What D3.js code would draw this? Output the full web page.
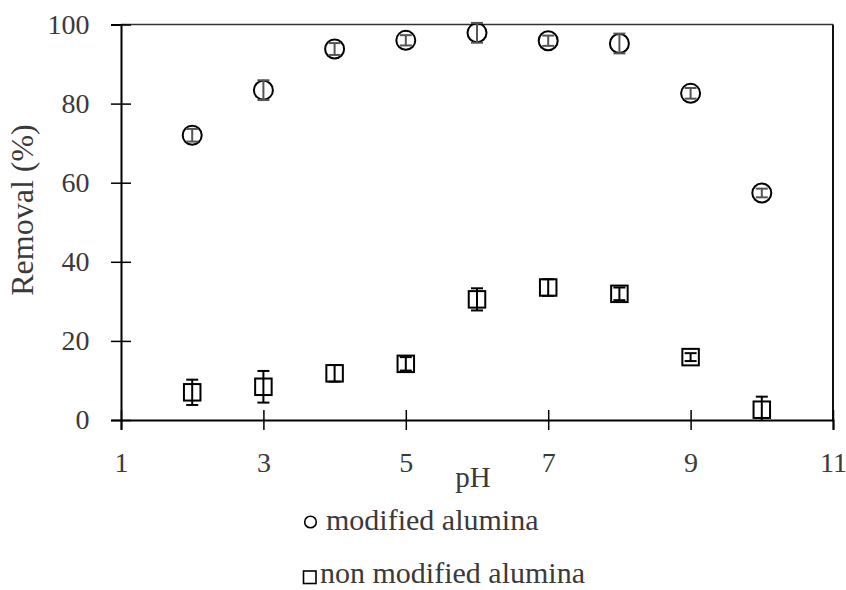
<!DOCTYPE html>
<html>
<head>
<meta charset="utf-8">
<script src="https://cdn.jsdelivr.net/npm/d3@7"></script>
<style>
  body { margin: 0; background: #fff; }
  svg text { font-family: "Liberation Serif", "Times New Roman", serif; fill: #3a3a3a; }
</style>
</head>
<body>
<svg id="chart"></svg>
<script>
// data
const phValues = [2, 3, 4, 5, 6, 7, 8, 9, 10];
const modifiedRemoval = [72.0, 83.4, 93.8, 96.0, 97.9, 95.9, 95.2, 82.6, 57.4];
const modifiedError = [1.6, 2.5, 1.5, 1.3, 2.5, 1.3, 2.5, 1.35, 1.1];
const nonModifiedRemoval = [7.0, 8.4, 11.8, 14.2, 30.5, 33.5, 31.9, 15.9, 2.6];
const nonModifiedError = [3.2, 4.0, 2.1, 1.7, 2.8, 2.1, 1.6, 1.0, 3.3];
const xTicks = [1, 3, 5, 7, 9, 11];
const yTicks = [0, 20, 40, 60, 80, 100];
const legendLabels = ["modified alumina", "non modified alumina"];

// layout
const width = 846;
const height = 590;
const margin = {top: 24.5, right: 13, bottom: 170, left: 121};
const plotW = width - margin.left - margin.right;
const plotH = height - margin.top - margin.bottom;

const svg = d3.select('#chart')
    .attr('width', width)
    .attr('height', height);

const g = svg.append('g')
    .attr('transform', 'translate(' + margin.left + ',' + margin.top + ')');

const x = d3.scaleLinear().domain([1, 11]).range([0, plotW]);
const y = d3.scaleLinear().domain([0, 100]).range([plotH, 0]);

// frame: top and right
g.append('line')
    .attr('x1', 0).attr('x2', plotW).attr('y1', 0).attr('y2', 0)
    .attr('stroke', '#333').attr('stroke-width', 1.5);
g.append('line')
    .attr('x1', plotW).attr('x2', plotW).attr('y1', 0).attr('y2', plotH)
    .attr('stroke', '#111').attr('stroke-width', 2);

// Y axis
const yAxis = g.append('g')
    .call(d3.axisLeft(y).tickValues(yTicks).tickSize(10).tickPadding(21.5));
yAxis.select('.domain').attr('stroke', '#000').attr('stroke-width', 2);
yAxis.selectAll('.tick line').attr('stroke', '#000').attr('stroke-width', 1.5);
yAxis.selectAll('.tick').append('line')
    .attr('x2', 10).attr('stroke', '#000').attr('stroke-width', 1.5);
yAxis.selectAll('.tick text')
    .style('font-size', '28px')
    .attr('fill', '#3a3a3a');

// X axis
const xAxis = g.append('g')
    .attr('transform', 'translate(0,' + plotH + ')')
    .call(d3.axisBottom(x).tickValues(xTicks).tickSize(10).tickPadding(11));
xAxis.select('.domain').attr('stroke', '#000').attr('stroke-width', 2);
xAxis.selectAll('.tick line').attr('stroke', '#000').attr('stroke-width', 1.5);
xAxis.selectAll('.tick').append('line')
    .attr('y2', -10).attr('stroke', '#000').attr('stroke-width', 1.5);
xAxis.selectAll('.tick text')
    .attr('dy', null)
    .attr('y', 51.5)
    .style('font-size', '28px')
    .attr('fill', '#3a3a3a');

// axis titles
svg.append('text')
    .attr('transform', 'translate(33,210) rotate(-90)')
    .attr('text-anchor', 'middle')
    .style('font-size', '32px')
    .text('Removal (%)');

svg.append('text')
    .attr('x', 473)
    .attr('y', 487)
    .attr('text-anchor', 'middle')
    .style('font-size', '29px')
    .text('pH');

// build point rows
const modRows = phValues.map((p, i) => ({ph: p, v: modifiedRemoval[i], e: modifiedError[i]}));
const nonRows = phValues.map((p, i) => ({ph: p, v: nonModifiedRemoval[i], e: nonModifiedError[i]}));

function drawErrors(rows, color) {
    const eg = g.append('g').attr('stroke', color).attr('stroke-width', 2);
    rows.forEach(function(d) {
        const lo = y(Math.max(0, d.v - d.e));
        const hi = y(d.v + d.e);
        const cx = x(d.ph);
        eg.append('line').attr('x1', cx).attr('x2', cx).attr('y1', lo).attr('y2', hi);
        eg.append('line').attr('x1', cx - 6).attr('x2', cx + 6).attr('y1', hi).attr('y2', hi);
        if (d.v - d.e > 0) {
            eg.append('line').attr('x1', cx - 6).attr('x2', cx + 6).attr('y1', lo).attr('y2', lo);
        }
    });
}

// circles: modified alumina
g.selectAll('circle.mod')
    .data(modRows)
    .enter()
    .append('circle')
    .attr('class', 'mod')
    .attr('cx', d => x(d.ph))
    .attr('cy', d => y(d.v))
    .attr('r', 9.5)
    .attr('fill', 'none')
    .attr('stroke', '#000')
    .attr('stroke-width', 2);
drawErrors(modRows, '#555');

// squares: non modified alumina
const sq = 16.5;
g.selectAll('rect.non')
    .data(nonRows)
    .enter()
    .append('rect')
    .attr('class', 'non')
    .attr('x', d => x(d.ph) - sq / 2)
    .attr('y', d => y(d.v) - sq / 2)
    .attr('width', sq)
    .attr('height', sq)
    .attr('fill', 'none')
    .attr('stroke', '#000')
    .attr('stroke-width', 2);
drawErrors(nonRows, '#000');

// legend
const legend = svg.append('g');
legend.append('circle')
    .attr('cx', 310.5).attr('cy', 522).attr('r', 5.8)
    .attr('fill', 'none').attr('stroke', '#000').attr('stroke-width', 1.6);
legend.append('text')
    .attr('x', 326).attr('y', 530)
    .style('font-size', '30px')
    .text(legendLabels[0]);
legend.append('rect')
    .attr('x', 303.5).attr('y', 571).attr('width', 12.5).attr('height', 12.5)
    .attr('fill', 'none').attr('stroke', '#000').attr('stroke-width', 1.6);
legend.append('text')
    .attr('x', 320).attr('y', 583)
    .style('font-size', '30px')
    .text(legendLabels[1]);
</script>
</body>
</html>
